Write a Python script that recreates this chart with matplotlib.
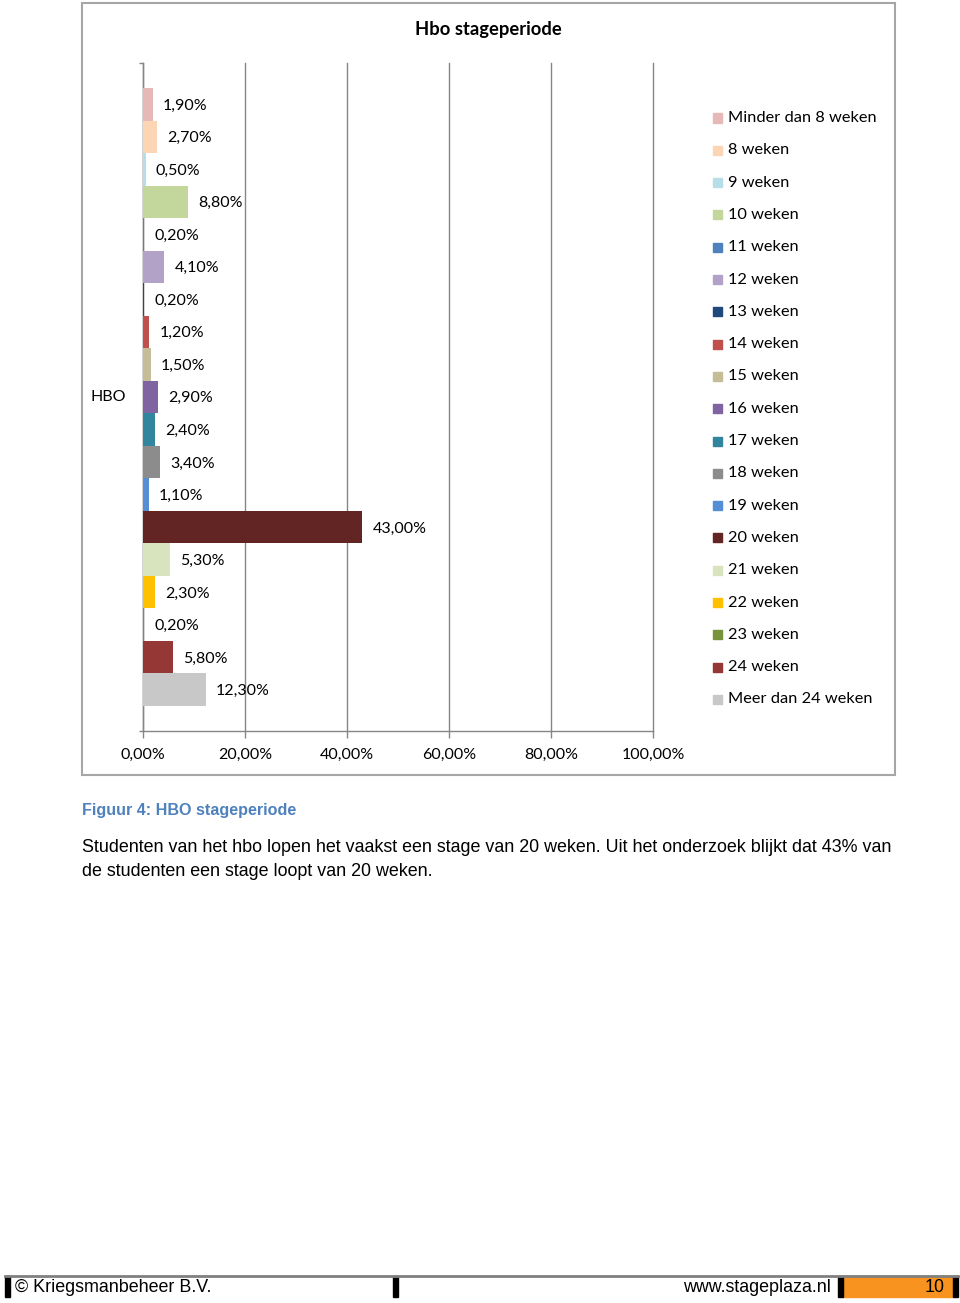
# Hbo stageperiode - horizontal clustered bar, one category (HBO)
import matplotlib
matplotlib.use('Agg')
import matplotlib.pyplot as plt
from matplotlib.patches import Rectangle
from matplotlib.ticker import FuncFormatter
from matplotlib.lines import Line2D

categories = ['Minder dan 8 weken', '8 weken', '9 weken', '10 weken', '11 weken',
              '12 weken', '13 weken', '14 weken', '15 weken', '16 weken', '17 weken',
              '18 weken', '19 weken', '20 weken', '21 weken', '22 weken', '23 weken',
              '24 weken', 'Meer dan 24 weken']
values = [1.9, 2.7, 0.5, 8.8, 0.2, 4.1, 0.2, 1.2, 1.5, 2.9, 2.4, 3.4, 1.1,
          43.0, 5.3, 2.3, 0.2, 5.8, 12.3]
colors = ['#E6B9B8', '#FCD5B5', '#B7DEE8', '#C3D69B', '#4F81BD', '#B3A2C7',
          '#1F497D', '#C0504D', '#C4BD97', '#8064A2', '#31859C', '#8C8C8C',
          '#558ED5', '#632523', '#D7E4BD', '#FFC000', '#77933C', '#953735', '#C8C8C8']
xticks = [0, 20, 40, 60, 80, 100]

W, H = 960, 1303
fig = plt.figure(figsize=(W / 100, H / 100), dpi=100)

def fx(x):
    return x / W

def fy(y):
    return 1 - y / H

chart_font = ['Lato', 'DejaVu Sans']
doc_font = ['Liberation Sans', 'DejaVu Sans']

# chart frame
fig.patches.append(Rectangle((fx(82), fy(775)), fx(895) - fx(82), fy(3) - fy(775),
                             transform=fig.transFigure, fill=False,
                             edgecolor='#A6A6A6', lw=1.5))

ax = fig.add_axes([fx(143), fy(731), fx(653) - fx(143), fy(63) - fy(731)])
n = len(values)
h = 0.925 / n
ypos = [(n / 2 - 0.5 - i) * h for i in range(n)]
ax.barh(ypos, values, height=h, color=colors, edgecolor='none', zorder=3)
for y, v in zip(ypos, values):
    ax.annotate(f'{v:.2f}%'.replace('.', ','), (v, y), xytext=(7.5, -1),
                textcoords='offset points', va='center', ha='left',
                fontsize=11.5, family=chart_font, color='#000000', zorder=4)

ax.set_xlim(0, 100)
ax.set_ylim(-0.5, 0.5)
ax.set_xticks(xticks)
ax.xaxis.set_major_formatter(FuncFormatter(lambda v, p: f'{v:.2f}%'.replace('.', ',')))
ax.set_yticks([-0.5, 0.5])
ax.set_yticklabels([])
ax.grid(axis='x', color='#868686', lw=1, zorder=0)
for gl in ax.get_xgridlines():
    gl.set_clip_on(False)
for s in ['top', 'right']:
    ax.spines[s].set_visible(False)
for s in ['left', 'bottom']:
    ax.spines[s].set_color('#868686')
    ax.spines[s].set_linewidth(1)
ax.tick_params(axis='x', length=5, width=1, color='#868686', pad=7, labelsize=11.5)
ax.tick_params(axis='y', length=3, width=1, color='#868686')
for t in ax.get_xticklabels():
    t.set_family(chart_font)
ax.text(-0.033, 0.5, 'HBO', transform=ax.transAxes, ha='right', va='center',
        fontsize=11.5, family=chart_font)

fig.text(fx(488), fy(29), 'Hbo stageperiode', ha='center', va='center',
         fontsize=13.2, fontweight='bold', family=chart_font)

# legend
for i, (name, col) in enumerate(zip(categories, colors)):
    yc = 118 + i * 32.3
    fig.patches.append(Rectangle((fx(713), fy(yc + 4.5)), fx(9), 9 / H,
                                 transform=fig.transFigure, color=col))
    fig.text(fx(728), fy(yc), name, ha='left', va='center', fontsize=11.8,
             family=chart_font)

# caption and body text
fig.text(fx(82), fy(810), 'Figuur 4: HBO stageperiode', ha='left', va='center',
         fontsize=11.6, fontweight='bold', color='#4F81BD', family=doc_font)
fig.text(fx(82), fy(847), 'Studenten van het hbo lopen het vaakst een stage van 20 weken. '
         'Uit het onderzoek blijkt dat 43% van', ha='left', va='center',
         fontsize=12.9, family=doc_font)
fig.text(fx(82), fy(871), 'de studenten een stage loopt van 20 weken.', ha='left',
         va='center', fontsize=12.9, family=doc_font)

# footer
fig.add_artist(Line2D([fx(5), fx(958)], [fy(1276), fy(1276)], color='#808080', lw=2))
fig.patches.append(Rectangle((fx(843), fy(1297)), fx(110), 21 / H,
                             transform=fig.transFigure, color='#F7931E'))
for x0 in [5, 393, 838, 953]:
    fig.patches.append(Rectangle((fx(x0), fy(1297)), fx(5), 21 / H,
                                 transform=fig.transFigure, color='#000000'))
fig.text(fx(15), fy(1287), '\u00a9 Kriegsmanbeheer B.V.', ha='left', va='center',
         fontsize=12.9, family=doc_font)
fig.text(fx(831), fy(1287), 'www.stageplaza.nl', ha='right', va='center',
         fontsize=12.9, family=doc_font)
fig.text(fx(945), fy(1287), '10', ha='right', va='center', fontsize=12.9,
         family=doc_font)

fig.savefig('out.png', dpi=100)
